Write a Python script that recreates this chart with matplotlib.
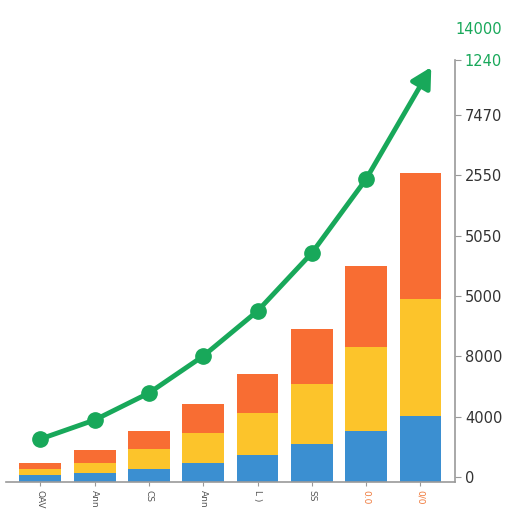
import matplotlib
matplotlib.use("Agg")
import matplotlib.pyplot as plt
import numpy as np

categories = ["OAV", "Ann", "CS", "Ann", "L )", "SS", "0.0", "0/0"]
blue_vals = [232, 300, 430, 630, 900, 1260, 1690, 2190]
yellow_vals = [200, 330, 665, 995, 1390, 1990, 2785, 3880]
orange_vals = [200, 430, 600, 960, 1290, 1825, 2690, 4180]
line_vals = [1426, 2057, 2952, 4179, 5672, 7596, 10050]
arrow_tip = (7.2, 13766)
tick_pos = [170, 2170, 4170, 6170, 8170, 10170, 12170, 14000]
tick_labels = ["0", "4000", "8000", "5000", "5050", "2550", "7470", "1240"]

c_blue = "#3b8fd1"
c_yellow = "#fcc42b"
c_orange = "#f86d33"
c_green = "#18a85a"

fig = plt.figure(figsize=(5.12, 5.12), dpi=100)
ax = fig.add_axes([0.012, 0.0586, 0.877, 0.8242])

x = np.arange(len(categories))
b = np.array(blue_vals)
y = np.array(yellow_vals)
o = np.array(orange_vals)
w = 0.77
ax.bar(x, b, width=w, color=c_blue, zorder=2)
ax.bar(x, y, width=w, bottom=b, color=c_yellow, zorder=2)
ax.bar(x, o, width=w, bottom=b + y, color=c_orange, zorder=2)

lx = np.arange(len(line_vals))
ax.plot(lx, line_vals, color=c_green, lw=3.5, marker="o", ms=11, zorder=4,
        solid_capstyle="round", solid_joinstyle="round")
ax.annotate("", xy=arrow_tip, xytext=(lx[-1], line_vals[-1]),
            arrowprops=dict(arrowstyle="-|>,head_length=1.2,head_width=0.65",
                            color=c_green, lw=3.5, shrinkA=0, shrinkB=0),
            zorder=4)

ax.set_xlim(-0.63, 7.64)
ax.set_ylim(0, 14000)

for s in ["left", "top"]:
    ax.spines[s].set_visible(False)
for s in ["right", "bottom"]:
    ax.spines[s].set_color("#9a9a9a")
    ax.spines[s].set_linewidth(1.2)

ax.yaxis.tick_right()
ax.set_yticks(tick_pos)
ax.set_yticklabels(tick_labels, fontsize=10.5, color="#333333")
ax.tick_params(axis="y", direction="out", length=4, pad=3, color="#9a9a9a")
ax.get_yticklabels()[-1].set_color(c_green)

ax.set_xticks(x)
ax.set_xticklabels(categories, rotation=270, fontsize=6.5, color="#555555")
ax.tick_params(axis="x", direction="out", length=3, pad=3, color="#9a9a9a")
for lbl in ax.get_xticklabels()[-2:]:
    lbl.set_color("#f07a3c")

fig.text(0.935, 0.942, "14000", color=c_green, fontsize=10.5, ha="center", va="center")

fig.savefig("out.png", dpi=100)
